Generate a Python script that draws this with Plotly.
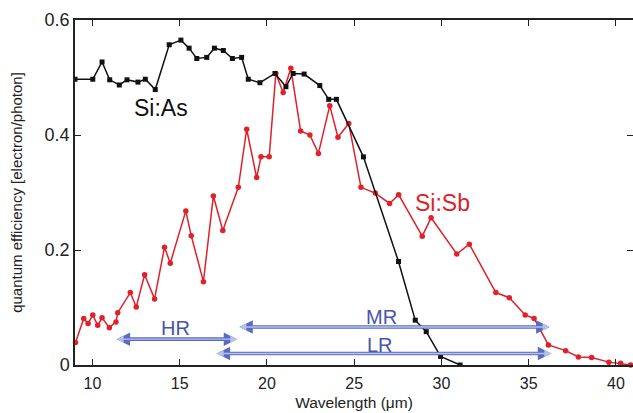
import plotly.graph_objects as go

# Si:As (black squares)
as_x = [9.0, 10.02, 10.55, 10.99, 11.54, 11.98, 12.61, 13.03, 13.6, 14.4, 15.07, 15.54, 15.98,
        16.55, 16.99, 17.5, 18.02, 18.55, 18.93, 19.6, 20.46, 21.09, 21.5, 22.13, 23.03, 23.54,
        23.98, 25.53, 27.54, 28.5, 29.13, 29.95, 31.07]
as_y = [0.497, 0.497, 0.527, 0.496, 0.487, 0.496, 0.492, 0.497, 0.479, 0.557, 0.565, 0.551, 0.533,
        0.535, 0.551, 0.547, 0.533, 0.535, 0.497, 0.491, 0.507, 0.484, 0.507, 0.506, 0.486, 0.462,
        0.462, 0.362, 0.18, 0.078, 0.058, 0.015, 0.0]

# Si:Sb (red circles)
sb_x = [9.03, 9.5, 9.75, 10.02, 10.3, 10.55, 10.97, 11.35, 11.45, 12.17, 12.51, 12.99, 13.56,
        14.13, 14.46, 15.35, 15.66, 16.36, 16.93, 17.47, 18.36, 18.84, 19.41, 19.66, 20.13, 20.51,
        20.93, 21.37, 21.93, 22.46, 22.95, 23.6, 24.07, 24.69, 25.39, 26.21, 27.03, 27.55, 28.9,
        29.41, 30.88, 31.6, 33.12, 33.89, 34.8, 35.31, 36.13, 37.12, 37.85, 38.61, 39.6, 40.27, 40.84]
sb_y = [0.039, 0.081, 0.072, 0.087, 0.069, 0.082, 0.065, 0.075, 0.091, 0.126, 0.101, 0.157, 0.115,
        0.205, 0.177, 0.268, 0.225, 0.145, 0.294, 0.234, 0.309, 0.41, 0.326, 0.362, 0.362, 0.507,
        0.474, 0.516, 0.407, 0.4, 0.368, 0.451, 0.396, 0.42, 0.309, 0.299, 0.281, 0.296, 0.224,
        0.256, 0.193, 0.21, 0.126, 0.117, 0.087, 0.081, 0.035, 0.025, 0.014, 0.013, 0.005, 0.003, 0.0]

# Wavelength ranges (double arrows)
range_names = ["HR", "MR", "LR"]
range_start = [11.3, 18.33, 17.03]
range_end = [18.3, 36.2, 36.3]
range_level = [0.045, 0.066, 0.020]
label_x = [14.74, 26.55, 26.46]
label_y = [0.064, 0.083, 0.035]

FONT = "Liberation Sans, Arial, Helvetica"

fig = go.Figure()
fig.add_trace(go.Scatter(x=sb_x, y=sb_y, mode="lines+markers",
                         line=dict(color="#e0202a", width=1.5),
                         marker=dict(color="#e0202a", size=5.5, symbol="circle"),
                         showlegend=False, cliponaxis=False))
fig.add_trace(go.Scatter(x=as_x, y=as_y, mode="lines+markers",
                         line=dict(color="#111111", width=1.5),
                         marker=dict(color="#111111", size=5, symbol="square"),
                         showlegend=False))

annotations = []
for name, s, e, lv, lx, ly in zip(range_names, range_start, range_end, range_level, label_x, label_y):
    for col, w, sz in (("#5b6cc0", 3.6, 0.75), ("#b4c2ee", 1.4, 1.0)):
        annotations.append(dict(x=e, y=lv, ax=s, ay=lv, xref="x", yref="y", axref="x", ayref="y",
                                text="", showarrow=True, arrowhead=2, arrowside="end+start",
                                arrowsize=sz, arrowwidth=w, arrowcolor=col,
                                standoff=0, startstandoff=0))
    annotations.append(dict(x=lx, y=ly, xref="x", yref="y", text=name, showarrow=False,
                            font=dict(size=20, color="#4a55a8", family=FONT)))

annotations.append(dict(x=13.95, y=0.447, xref="x", yref="y", text="Si:As", showarrow=False,
                        font=dict(size=23, color="#111111", family=FONT)))
annotations.append(dict(x=30.05, y=0.282, xref="x", yref="y", text="Si:Sb", showarrow=False,
                        font=dict(size=23, color="#e0202a", family=FONT)))

fig.update_layout(
    width=633, height=413,
    margin=dict(l=74.5, r=0, t=20, b=48),
    plot_bgcolor="white", paper_bgcolor="white",
    font=dict(family=FONT, color="#222222", size=16),
    annotations=annotations,
    xaxis=dict(range=[9, 40.98], tickvals=[10, 15, 20, 25, 30, 35, 40],
               ticks="inside", ticklen=6, tickwidth=1.2, tickcolor="#222",
               tickfont=dict(size=16), ticklabelstandoff=3,
               showline=True, linecolor="#222", linewidth=1.5, mirror="ticks",
               showgrid=False, zeroline=False, automargin=False,
               title=dict(text="Wavelength (μm)", font=dict(size=15.5), standoff=6)),
    yaxis=dict(range=[0, 0.6], tickvals=[0, 0.2, 0.4, 0.6], ticktext=["0", "0.2", "0.4", "0.6"],
               ticks="inside", ticklen=6, tickwidth=1.2, tickcolor="#222",
               tickfont=dict(size=18),
               showline=True, linecolor="#222", linewidth=1.5, mirror="ticks",
               showgrid=False, zeroline=False, automargin=False,
               title=dict(text="quantum efficiency [electron/photon]", font=dict(size=15), standoff=18)),
)

fig.write_html("out.html", config={"displayModeBar": False},
               post_script="document.body.style.margin='0';document.body.style.overflow='hidden';")
